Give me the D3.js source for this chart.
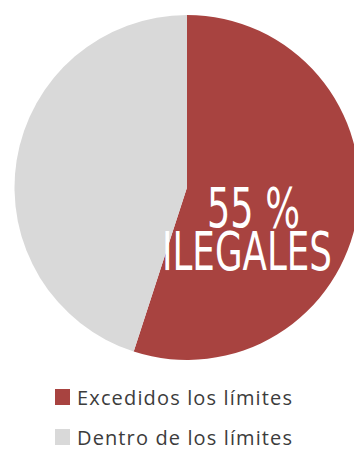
<!DOCTYPE html>
<html>
<head>
<meta charset="utf-8">
<script src="https://cdn.jsdelivr.net/npm/d3@7"></script>
<style>
  html, body { margin: 0; padding: 0; background: #fff; overflow: hidden; }
  svg { display: block; }
</style>
</head>
<body>
<script>
// Share of measurements above / within the legal limits
const categories = ["Excedidos los límites", "Dentro de los límites"];
const values = [55, 45];
const colors = ["#a84340", "#d9d9d9"];
const headline = ["55 %", "ILEGALES"];

const width = 354, height = 452;
const cx = 187, cy = 187.5, radius = 172.5;

const svg = d3.select("body").append("svg")
  .attr("width", width)
  .attr("height", height);

const pie = d3.pie().sort(null).value(d => d);
const arc = d3.arc().innerRadius(0).outerRadius(radius);
const color = d3.scaleOrdinal().domain(categories).range(colors);

const g = svg.append("g").attr("transform", `translate(${cx},${cy})`);

g.selectAll("path")
  .data(pie(values))
  .join("path")
  .attr("d", arc)
  .attr("fill", (d, i) => color(categories[i]));

// Headline over the red slice
const headFont = "'Liberation Sans Narrow', 'DejaVu Sans Condensed', 'Roboto', sans-serif";
svg.append("text")
  .attr("x", 207).attr("y", 227)
  .attr("textLength", 93).attr("lengthAdjust", "spacingAndGlyphs")
  .attr("font-family", headFont)
  .attr("font-size", 56)
  .attr("fill", "#fff")
  .text(headline[0]);

svg.append("text")
  .attr("x", 162).attr("y", 270)
  .attr("textLength", 170).attr("lengthAdjust", "spacingAndGlyphs")
  .attr("font-family", headFont)
  .attr("font-size", 53)
  .attr("fill", "#fff")
  .text(headline[1]);

// Legend
const legend = svg.append("g");
const rows = legend.selectAll("g")
  .data(categories)
  .join("g")
  .attr("transform", (d, i) => `translate(55,${389 + i * 40})`);

rows.append("rect")
  .attr("width", 15).attr("height", 16)
  .attr("fill", d => color(d));

rows.append("text")
  .attr("x", 22).attr("y", 16)
  .attr("textLength", 215).attr("lengthAdjust", "spacing")
  .attr("font-family", "'Open Sans', 'Noto Sans', sans-serif")
  .attr("font-size", 20)
  .attr("fill", "#3c3c3c")
  .text(d => d);
</script>
</body>
</html>
